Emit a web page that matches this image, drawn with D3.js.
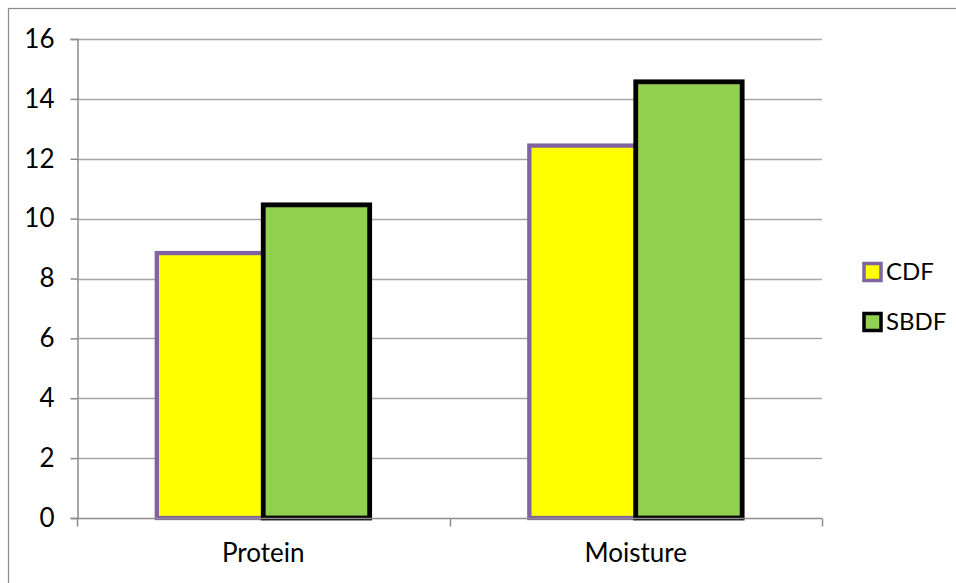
<!DOCTYPE html>
<html>
<head>
<meta charset="utf-8">
<script src="https://cdn.jsdelivr.net/npm/d3@7"></script>
<style>
  html, body { margin: 0; padding: 0; background: #fff; }
  svg { display: block; font-family: Lato, sans-serif; }
</style>
</head>
<body>
<svg id="chart" width="956" height="583"></svg>
<script>
// Nutrient content by drying method
const categories = ["Protein", "Moisture"];
const seriesNames = ["CDF", "SBDF"];
const cdfValues = [8.85, 12.44];
const sbdfValues = [10.46, 14.57];
const yTicks = [0, 2, 4, 6, 8, 10, 12, 14, 16];

const fills = { CDF: "#FFFF00", SBDF: "#92D050" };
const strokes = { CDF: "#8064A2", SBDF: "#000000" };
const valuesBySeries = { CDF: cdfValues, SBDF: sbdfValues };

const svg = d3.select("#chart");
const W = 956, H = 583;
const plot = { left: 77, right: 822, top: 39, bottom: 518 };
const fontSize = 26;
const fontFamily = "Lato, sans-serif";

// outer chart frame (only top and left edges fall inside the page)
svg.append("rect")
  .attr("x", 8.5).attr("y", 8.5)
  .attr("width", W + 20).attr("height", H + 20)
  .attr("fill", "none").attr("stroke", "#8c8c8c").attr("stroke-width", 1.2);

const y = d3.scaleLinear().domain([0, 16]).range([plot.bottom, plot.top]);
const x = d3.scaleBand().domain(categories).range([plot.left, plot.right]).padding(0);
const gapWidth = 1.5; // gap between groups as a fraction of one bar
const barW = x.bandwidth() / (seriesNames.length + gapWidth);
const xInner = d3.scaleBand().domain(seriesNames)
  .range([barW * gapWidth / 2, barW * gapWidth / 2 + barW * seriesNames.length]);

// horizontal gridlines
svg.append("g")
  .selectAll("line")
  .data(yTicks.filter(t => t > 0))
  .join("line")
  .attr("x1", plot.left).attr("x2", plot.right)
  .attr("y1", d => Math.round(y(d)) + 0.5).attr("y2", d => Math.round(y(d)) + 0.5)
  .attr("stroke", "#a6a6a6").attr("stroke-width", 1.3);

// y axis
const yAxis = svg.append("g")
  .attr("transform", `translate(${plot.left + 0.5},0)`)
  .call(d3.axisLeft(y).tickValues(yTicks).tickSize(7).tickPadding(16).tickFormat(d3.format("d")));
yAxis.select(".domain").attr("stroke", "#8c8c8c").attr("stroke-width", 1.5);
yAxis.selectAll(".tick line").attr("stroke", "#8c8c8c").attr("stroke-width", 1.5);
yAxis.selectAll(".tick text").attr("font-size", fontSize).attr("fill", "#000")
  .attr("font-family", fontFamily);

// bars
const groups = svg.append("g")
  .selectAll("g")
  .data(seriesNames)
  .join("g");
groups.selectAll("rect")
  .data(s => categories.map((c, i) => ({ s, c, v: valuesBySeries[s][i] })))
  .join("rect")
  .attr("x", d => x(d.c) + xInner(d.s))
  .attr("width", xInner.bandwidth())
  .attr("y", d => y(d.v))
  .attr("height", d => y(0) - y(d.v))
  .attr("fill", d => fills[d.s])
  .attr("stroke", d => strokes[d.s])
  .attr("stroke-width", d => d.s === "CDF" ? 4.3 : 4.8);

// x axis
const xAxisScale = d3.scaleLinear().domain([0, categories.length]).range([plot.left, plot.right]);
const xAxis = svg.append("g").attr("transform", `translate(0,${plot.bottom + 0.5})`);
xAxis.append("line")
  .attr("x1", plot.left).attr("x2", plot.right)
  .attr("stroke", "#8c8c8c").attr("stroke-width", 1.5);
xAxis.selectAll("line.tk")
  .data(d3.range(categories.length + 1))
  .join("line").attr("class", "tk")
  .attr("x1", d => Math.round(xAxisScale(d)) + 0.5).attr("x2", d => Math.round(xAxisScale(d)) + 0.5)
  .attr("y1", 0).attr("y2", 8)
  .attr("stroke", "#8c8c8c").attr("stroke-width", 1.5);
xAxis.selectAll("text")
  .data(categories)
  .join("text")
  .attr("x", d => x(d) + x.bandwidth() / 2)
  .attr("y", 43)
  .attr("text-anchor", "middle")
  .attr("font-size", fontSize)
  .attr("font-family", fontFamily)
  .text(d => d);

// legend
const legend = svg.append("g").attr("transform", "translate(864,272)");
const li = legend.selectAll("g")
  .data(seriesNames)
  .join("g")
  .attr("transform", (d, i) => `translate(0,${i * 50})`);
li.append("rect")
  .attr("x", 0).attr("y", -8.5).attr("width", 17).attr("height", 17)
  .attr("fill", d => fills[d]).attr("stroke", d => strokes[d]).attr("stroke-width", 3.5);
li.append("text")
  .attr("x", 22).attr("y", 0).attr("dy", "0.35em")
  .attr("font-size", 24)
  .attr("font-family", fontFamily)
  .text(d => d);
</script>
</body>
</html>
